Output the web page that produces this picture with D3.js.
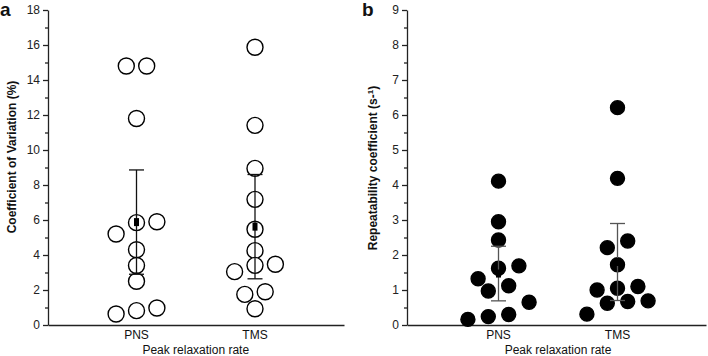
<!DOCTYPE html>
<html>
<head>
<meta charset="utf-8">
<script src="https://cdn.jsdelivr.net/npm/d3@7"></script>
<style>
  body { margin: 0; background: #fff; }
  svg text { font-family: "Liberation Sans", Arial, sans-serif; fill: #111; }
  .axis path, .axis line { stroke: #222; stroke-width: 1.3px; }
  .axis text { font-size: 12px; fill: #222; }
  .lbl { font-size: 12px; font-weight: bold; }
</style>
</head>
<body>
<div id="graphic"></div>
<script>
// groups
const groups = ['PNS', 'TMS'];

// panel a: coefficient of variation (%)
const cvPNS = [14.8, 14.8, 11.8, 5.9, 5.85, 5.2, 4.3, 3.4, 2.5, 0.97, 0.82, 0.63];
const cvPNSslot = [-1, 1, 0, 2, 0, -2, 0, 0, 0, 2, 0, -2];
const cvTMS = [15.87, 11.41, 8.95, 7.18, 5.47, 4.25, 3.41, 3.47, 3.05, 1.75, 1.9, 0.93];
const cvTMSslot = [0, 0, 0, 0, 0, 0, 0, 2, -2, -1, 1, 0];
const cvMean = [5.88, 5.62];
const cvSD = [2.98, 2.98];

// panel b: repeatability coefficient (s-1)
const rcPNS = [4.11, 2.95, 2.43, 1.62, 1.69, 1.32, 0.97, 1.12, 0.65, 0.16, 0.24, 0.30];
const rcPNSslot = [0, 0, 0, 0, 2, -2, -1, 1, 3, -3, -1, 1];
const rcTMS = [6.21, 4.19, 2.4, 2.21, 1.72, 1.0, 1.05, 1.1, 0.62, 0.67, 0.69, 0.31];
const rcTMSslot = [0, 0, 1, -1, 0, -2, 0, 2, -1, 1, 3, -3];
const rcMean = [1.47, 1.8];
const rcSD = [0.78, 1.1];

const svg = d3.select('#graphic').append('svg')
  .attr('width', 708).attr('height', 356);

function panel(opts) {
  const g = svg.append('g');
  const y = d3.scaleLinear().domain([0, opts.max]).range([325, 10]);
  const x = d3.scalePoint().domain(groups).range(opts.cx);
  const slot = d3.scaleLinear().domain([0, 1]).range([0, 10.2]);

  // y axis, major + minor ticks
  g.append('g').attr('class', 'axis')
    .attr('transform', 'translate(' + opts.left + ',0)')
    .call(d3.axisLeft(y).tickValues(d3.range(0, opts.max + 0.001, opts.major)).tickSize(5).tickPadding(3).tickSizeOuter(0))
  g.append('g').attr('class', 'axis')
    .attr('transform', 'translate(' + opts.left + ',0)')
    .call(d3.axisLeft(y).tickValues(d3.range(opts.major / 2, opts.max, opts.major)).tickSize(3).tickFormat('').tickSizeOuter(0))
    .select('.domain').remove();

  // x axis line
  g.append('g').attr('class', 'axis')
    .attr('transform', 'translate(0,325)')
    .call(d3.axisBottom(d3.scaleLinear().range([opts.left, opts.right])).tickValues([]).tickSizeOuter(0));

  // group labels
  g.selectAll('.grp').data(groups).join('text')
    .attr('class', 'grp')
    .attr('x', d => x(d)).attr('y', 339)
    .attr('text-anchor', 'middle').style('font-size', '12px')
    .text(d => d);

  g.append('text')
    .attr('x', (x('PNS') + x('TMS')) / 2).attr('y', 354)
    .attr('text-anchor', 'middle').style('font-size', '12px')
    .text('Peak relaxation rate');

  // points
  const pts = [];
  opts.series.forEach((s, i) => s.vals.forEach((v, j) => pts.push({ g: groups[i], v: v, s: s.slot[j] })));
  g.selectAll('circle.pt').data(pts).join('circle')
    .attr('class', 'pt')
    .attr('cx', d => x(d.g) + slot(d.s))
    .attr('cy', d => y(d.v))
    .attr('r', opts.r)
    .attr('fill', opts.filled ? '#000' : '#fff')
    .attr('stroke', '#000')
    .attr('stroke-width', 1.4);

  // mean +/- SD
  const stats = groups.map((d, i) => ({ g: d, m: opts.mean[i], sd: opts.sd[i] }));
  const eb = g.selectAll('g.eb').data(stats).join('g').attr('class', 'eb');
  eb.append('line')
    .attr('x1', d => x(d.g)).attr('x2', d => x(d.g))
    .attr('y1', d => y(d.m + d.sd)).attr('y2', d => y(d.m - d.sd))
    .attr('stroke', opts.filled ? '#555' : '#111').attr('stroke-width', 1.3);
  [1, -1].forEach(k => {
    eb.append('line')
      .attr('x1', d => x(d.g) - 7.5).attr('x2', d => x(d.g) + 7.5)
      .attr('y1', d => y(d.m + k * d.sd)).attr('y2', d => y(d.m + k * d.sd))
      .attr('stroke', opts.filled ? '#555' : '#111').attr('stroke-width', 1.3);
  });
  eb.append('rect')
    .attr('x', d => x(d.g) - 2.5).attr('y', d => y(d.m) - 4)
    .attr('width', 5).attr('height', 8)
    .attr('fill', '#000');

  return g;
}

const ga = panel({
  max: 18, major: 2, left: 48, right: 344, cx: [136.5, 255], r: 8,
  filled: false, mean: cvMean, sd: cvSD,
  series: [{ vals: cvPNS, slot: cvPNSslot }, { vals: cvTMS, slot: cvTMSslot }]
});
ga.append('text').attr('x', 0).attr('y', 16)
  .style('font-size', '19px').style('font-weight', 'bold').text('a');
ga.append('text').attr('class', 'lbl')
  .attr('transform', 'translate(16,157) rotate(-90)')
  .attr('text-anchor', 'middle')
  .text('Coefficient of Variation (%)');

const gb = panel({
  max: 9, major: 1, left: 407, right: 706, cx: [498.5, 617.5], r: 7,
  filled: true, mean: rcMean, sd: rcSD,
  series: [{ vals: rcPNS, slot: rcPNSslot }, { vals: rcTMS, slot: rcTMSslot }]
});
gb.append('text').attr('x', 362).attr('y', 16)
  .style('font-size', '19px').style('font-weight', 'bold').text('b');
const yl = gb.append('text').attr('class', 'lbl')
  .attr('transform', 'translate(377,168) rotate(-90)')
  .attr('text-anchor', 'middle');
yl.append('tspan').text('Repeatability coefficient  (s-');
yl.append('tspan').attr('dy', -4).style('font-size', '8px').text('1');
yl.append('tspan').attr('dy', 4).text(')');
</script>
</body>
</html>
